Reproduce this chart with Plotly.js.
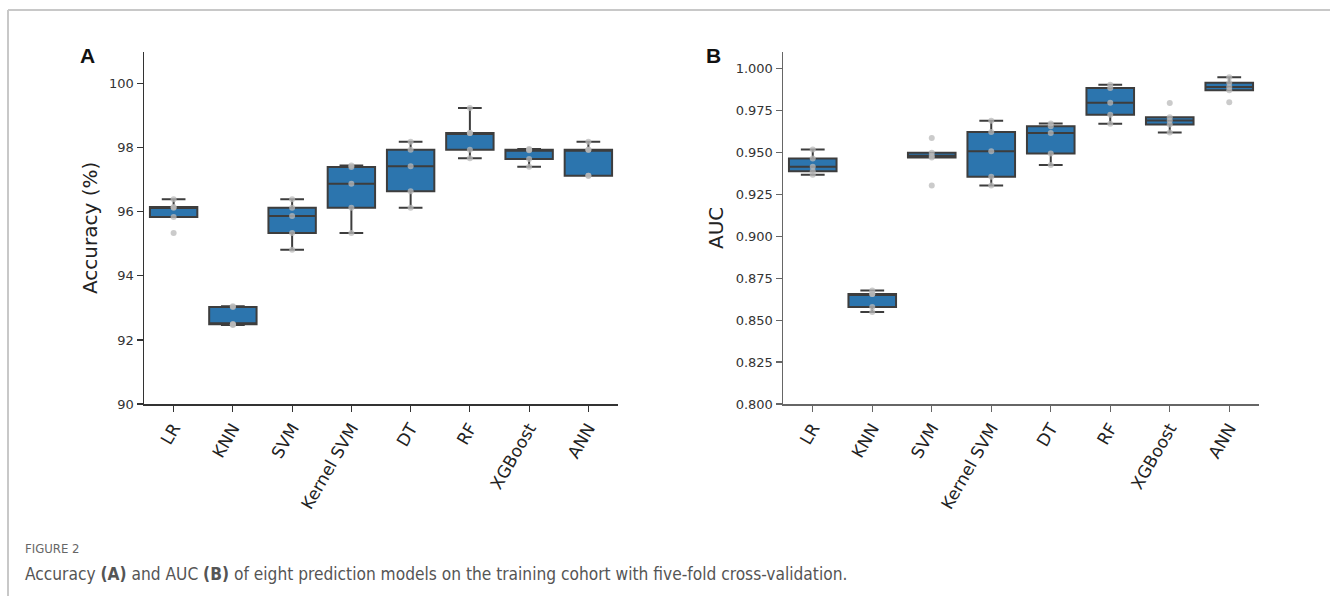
<!DOCTYPE html>
<html>
<head>
<meta charset="utf-8">
<script src="https://cdn.plot.ly/plotly-3.0.1.min.js"></script>
<style>
html,body{margin:0;padding:0;background:#fff;}
#chart{width:1330px;height:596px;}
</style>
</head>
<body>
<div id="chart"></div>
<script>
// ---- data (five folds per model) ----
const models = ['LR', 'KNN', 'SVM', 'Kernel SVM', 'DT', 'RF', 'XGBoost', 'ANN'];
const yTicksAcc = [90, 92, 94, 96, 98, 100];
const yTicksAuc = [0.800, 0.825, 0.850, 0.875, 0.900, 0.925, 0.950, 0.975, 1.000];

// Accuracy (%)
const accLR      = [95.34, 95.84, 96.13, 96.15, 96.39];
const accKNN     = [92.47, 92.49, 92.49, 93.03, 93.05];
const accSVM     = [94.82, 95.34, 95.87, 96.13, 96.39];
const accKSVM    = [95.34, 96.13, 96.88, 97.40, 97.45];
const accDT      = [96.13, 96.64, 97.42, 97.94, 98.19];
const accRF      = [97.67, 97.94, 98.46, 98.46, 99.24];
const accXGB     = [97.41, 97.65, 97.92, 97.94, 97.96];
const accANN     = [97.13, 97.13, 97.94, 97.94, 98.19];

// AUC
const aucLR      = [0.9366, 0.9388, 0.9414, 0.9464, 0.9517];
const aucKNN     = [0.8548, 0.8578, 0.8655, 0.8656, 0.8676];
const aucSVM     = [0.9302, 0.9470, 0.9480, 0.9497, 0.9585];
const aucKSVM    = [0.9302, 0.9354, 0.9507, 0.9622, 0.9688];
const aucDT      = [0.9425, 0.9493, 0.9616, 0.9656, 0.9672];
const aucRF      = [0.9670, 0.9724, 0.9795, 0.9883, 0.9903];
const aucXGB     = [0.9619, 0.9666, 0.9690, 0.9710, 0.9794];
const aucANN     = [0.9798, 0.9870, 0.9890, 0.9915, 0.9947];

const accSeries = [accLR, accKNN, accSVM, accKSVM, accDT, accRF, accXGB, accANN];
const aucSeries = [aucLR, aucKNN, aucSVM, aucKSVM, aucDT, aucRF, aucXGB, aucANN];

// ---- styling ----
const BLUE = '#2c75ae';
const EDGE = '#3d3d3d';
const DOT = 'rgba(185,185,185,0.75)';
const W = 1330, H = 596;
const px = v => v / W;
const py = v => 1 - v / H;

function boxTrace(series, xa, ya) {
  const x = [], y = [];
  models.forEach((m, i) => series[i].forEach(v => { x.push(m); y.push(v); }));
  return {
    type: 'box', x: x, y: y, xaxis: xa, yaxis: ya,
    boxpoints: 'all', jitter: 0, pointpos: 0,
    quartilemethod: 'inclusive',
    width: 0.8, whiskerwidth: 0.5,
    fillcolor: BLUE,
    line: {color: EDGE, width: 2},
    marker: {color: DOT, size: 6, line: {width: 0}},
    hoverinfo: 'skip', showlegend: false
  };
}

function xAxis(domain, anchor, lineColor) {
  return {
    domain: domain, anchor: anchor, type: 'category',
    categoryorder: 'array', categoryarray: models,
    range: [-0.5, 7.5],
    showline: true, linecolor: lineColor, linewidth: 1.5,
    ticks: 'outside', ticklen: 6, tickwidth: 1.2, tickcolor: lineColor,
    tickangle: -60,
    tickfont: {family: 'DejaVu Sans', size: 17, color: '#222'},
    showgrid: false, zeroline: false, fixedrange: true
  };
}

function yAxis(domain, anchor, range, ticks, fmt, title, lineColor) {
  return {
    domain: domain, anchor: anchor, range: range,
    tickmode: 'array', tickvals: ticks, tickformat: fmt,
    showline: true, linecolor: lineColor, linewidth: 1.5,
    ticks: 'outside', ticklen: 6, tickwidth: 1.2, tickcolor: lineColor,
    tickfont: {family: 'DejaVu Sans', size: 13, color: '#333'},
    title: {text: title, font: {family: 'DejaVu Sans', size: 20, color: '#222'}, standoff: 6},
    showgrid: false, zeroline: false, fixedrange: true
  };
}

const yDom = [py(404), py(51.7)];

const data = [
  boxTrace(accSeries, 'x', 'y'),
  boxTrace(aucSeries, 'x2', 'y2')
];

const layout = {
  width: W, height: H,
  margin: {l: 0, r: 0, t: 0, b: 0},
  paper_bgcolor: '#fff', plot_bgcolor: '#fff',
  showlegend: false,
  xaxis: xAxis([px(144), px(618)], 'y', '#333'),
  yaxis: yAxis(yDom, 'x', [90, 101], yTicksAcc, 'd', 'Accuracy (%)', '#333'),
  xaxis2: xAxis([px(783), px(1259)], 'y2', '#666'),
  yaxis2: yAxis(yDom, 'x2', [0.8, 1.01], yTicksAuc, '.3f', 'AUC', '#666'),
  shapes: [
    {type: 'line', xref: 'paper', yref: 'paper', x0: px(8), x1: 1, y0: py(10), y1: py(10), line: {color: '#c8c8c8', width: 2}},
    {type: 'line', xref: 'paper', yref: 'paper', x0: px(8), x1: px(8), y0: py(10), y1: 0, line: {color: '#c8c8c8', width: 2}}
  ],
  annotations: [
    {text: '<b>A</b>', xref: 'paper', yref: 'paper', x: px(78), y: py(55.5), xanchor: 'left', yanchor: 'middle', showarrow: false,
     font: {family: 'Liberation Sans, Arial, sans-serif', size: 21, color: '#111'}},
    {text: '<b>B</b>', xref: 'paper', yref: 'paper', x: px(704), y: py(55.5), xanchor: 'left', yanchor: 'middle', showarrow: false,
     font: {family: 'Liberation Sans, Arial, sans-serif', size: 21, color: '#111'}},
    {text: 'FIGURE 2', xref: 'paper', yref: 'paper', x: px(23), y: py(548), xanchor: 'left', yanchor: 'middle', showarrow: false,
     font: {family: 'Liberation Sans Narrow, DejaVu Sans Condensed, sans-serif', size: 13, color: '#666'}},
    {text: 'Accuracy <b>(A)</b> and AUC <b>(B)</b> of eight prediction models on the training cohort with five-fold cross-validation.',
     xref: 'paper', yref: 'paper', x: px(23), y: py(574), xanchor: 'left', yanchor: 'middle', showarrow: false,
     font: {family: 'Liberation Sans Narrow, DejaVu Sans Condensed, sans-serif', size: 17.2, color: '#555'}}
  ]
};

Plotly.newPlot('chart', data, layout, {staticPlot: true, displayModeBar: false});
</script>
</body>
</html>
